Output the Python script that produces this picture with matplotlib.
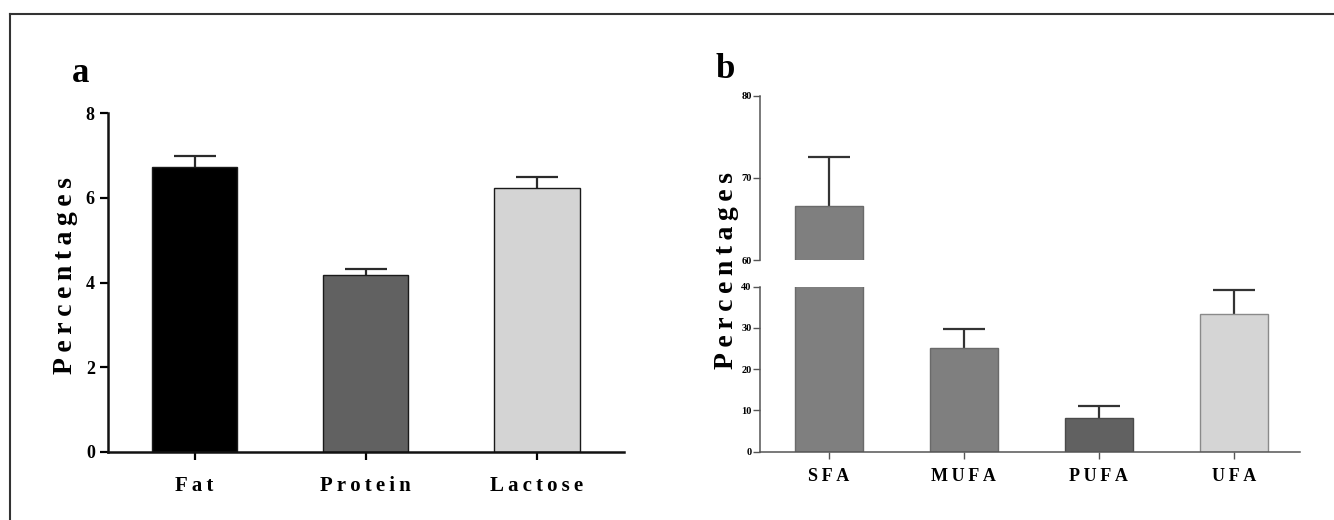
import numpy as np
import matplotlib
matplotlib.use("Agg")
import matplotlib.pyplot as plt
from matplotlib.lines import Line2D

# 数据 (a): 乳成分
milk_labels = ["Fat", "Protein", "Lactose"]
milk_values = [6.73, 4.18, 6.24]
milk_err = [0.26, 0.15, 0.25]

# 数据 (b): 脂肪酸
fa_labels = ["SFA", "MUFA", "PUFA", "UFA"]
fa_values = [66.6, 25.1, 8.1, 33.3]
fa_err = [5.9, 4.6, 2.9, 5.9]

plt.rcParams['font.family'] = ['Liberation Serif', 'DejaVu Serif']
plt.rcParams['font.weight'] = 'bold'

W, H = 1334, 520
fig = plt.figure(figsize=(W / 100, H / 100), dpi=100)


def spaced(s):
    """字母间加细空格"""
    return "\u2009".join(s)


def px_box(left, right, bottom, top):
    """像素坐标 -> figure 坐标"""
    return [left / W, 1 - bottom / H, (right - left) / W, (bottom - top) / H]


def draw_err(ax, x, vals, errs, color, lw, cap):
    eb = ax.errorbar(x, vals, yerr=[np.zeros(len(vals)), errs], fmt='none',
                     ecolor=color, elinewidth=lw, capsize=cap, capthick=lw, zorder=1)
    eb[1][0].set_visible(False)  # 只保留上方误差帽


# ---------- a ----------
ax_a = fig.add_axes(px_box(108, 624, 452, 113))
xa = np.arange(len(milk_labels))
ax_a.bar(xa, milk_values, width=0.5, color=['#000000', '#616161', '#d4d4d4'],
         edgecolor='#1a1a1a', linewidth=1.0, zorder=2)
draw_err(ax_a, xa, milk_values, milk_err, '#2a2a2a', 1.6, 15)
ax_a.set_xlim(-0.506, 2.51)
ax_a.set_ylim(0, 8)
ax_a.set_yticks([0, 2, 4, 6, 8])
ax_a.set_xticks(xa)
ax_a.set_xticklabels([spaced(s) for s in milk_labels], fontsize=15, fontweight='bold')
for lab in ax_a.get_yticklabels():
    lab.set_fontsize(13)
    lab.set_fontweight('bold')
for side in ['top', 'right']:
    ax_a.spines[side].set_visible(False)
for side in ['left', 'bottom']:
    ax_a.spines[side].set_linewidth(1.8)
    ax_a.spines[side].set_color('#111111')
ax_a.tick_params(axis='x', length=6, width=1.6, pad=11)
ax_a.tick_params(axis='y', length=6, width=1.6, pad=3.5)

fig.text(81 / W, 1 - 82 / H, 'a', fontsize=25, fontweight='bold', ha='center', va='baseline')
fig.text(66 / W, 1 - 276 / H, spaced("Percentages"), fontsize=20, fontweight='bold',
         rotation=90, ha='center', va='center')

# ---------- b (断轴) ----------
ax_lo = fig.add_axes(px_box(760, 1300, 451.7, 286.7))
ax_hi = fig.add_axes(px_box(760, 1300, 260, 95.7))
xb = np.arange(len(fa_labels))
fa_colors = ['#7f7f7f', '#7f7f7f', '#616161', '#d5d5d5']
fa_edges = ['#6a6a6a', '#6a6a6a', '#4a4a4a', '#8a8a8a']
for ax in (ax_lo, ax_hi):
    ax.bar(xb, fa_values, width=0.5, color=fa_colors, edgecolor=fa_edges,
           linewidth=1.0, zorder=2)
    draw_err(ax, xb, fa_values, fa_err, '#333333', 1.6, 15)
    ax.set_xlim(-0.51, 3.49)
    for side in ['top', 'right']:
        ax.spines[side].set_visible(False)
    for side in ['left', 'bottom']:
        ax.spines[side].set_linewidth(1.1)
        ax.spines[side].set_color('#555555')
    ax.tick_params(axis='y', length=5, width=1.0, color='#555555', pad=1,
                   labelsize=7.5)

ax_lo.set_ylim(0, 40)
ax_lo.set_yticks([0, 10, 20, 30, 40])
ax_lo.set_xticks(xb)
ax_lo.set_xticklabels([spaced(s) for s in fa_labels], fontsize=13, fontweight='bold')
ax_lo.tick_params(axis='x', length=5, width=1.0, color='#555555', pad=7)
for lab in ax_lo.get_yticklabels():
    lab.set_fontweight('bold')

ax_hi.set_ylim(60, 80)
ax_hi.set_yticks([60, 70, 80])
ax_hi.spines['bottom'].set_visible(False)
ax_hi.set_xticks([])
for lab in ax_hi.get_yticklabels():
    lab.set_fontweight('bold')

fig.text(725 / W, 1 - 78 / H, 'b', fontsize=25, fontweight='bold', ha='center', va='baseline')
fig.text(727 / W, 1 - 271 / H, spaced("Percentages"), fontsize=20, fontweight='bold',
         rotation=90, ha='center', va='center')

# 外框 (上边和左边)
fig.add_artist(Line2D([10 / W, 1.0], [1 - 14 / H, 1 - 14 / H], color='#333333', lw=1.5))
fig.add_artist(Line2D([10 / W, 10 / W], [0.0, 1 - 14 / H], color='#333333', lw=1.5))

fig.savefig('out.png', dpi=100)
